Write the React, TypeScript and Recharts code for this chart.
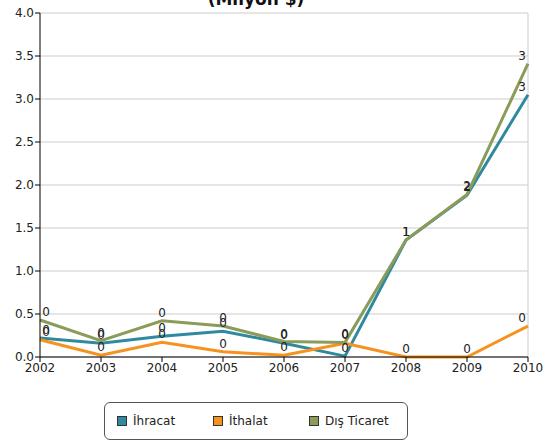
import { LineChart, Line, XAxis, YAxis, CartesianGrid, Legend, LabelList } from 'recharts';

const years = ['2002', '2003', '2004', '2005', '2006', '2007', '2008', '2009', '2010'];
const ihracat = [0.22, 0.16, 0.24, 0.3, 0.16, 0.01, 1.36, 1.88, 3.05];
const ithalat = [0.2, 0.02, 0.17, 0.06, 0.02, 0.16, 0.0, 0.0, 0.36];
const disTicaret = [0.43, 0.19, 0.42, 0.36, 0.18, 0.17, 1.36, 1.89, 3.41];
const yTicks = [0, 0.5, 1, 1.5, 2, 2.5, 3, 3.5, 4];

const series = [
  { key: 'ihracat', name: 'İhracat', color: '#2f8aa0' },
  { key: 'ithalat', name: 'İthalat', color: '#f6921e' },
  { key: 'dis', name: 'Dış Ticaret', color: '#8a9b5a' },
];

const data = years.map((year, i) => ({
  year,
  ihracat: ihracat[i],
  ithalat: ithalat[i],
  dis: disTicaret[i],
}));

const font = 'Tahoma, "DejaVu Sans", sans-serif';

// value labels kept inside the plot, like the original
function PointLabel(props: any) {
  const { x, y, value } = props;
  if (x == null || y == null) return null;
  const cx = Math.min(Math.max(Number(x), 46), 522);
  return (
    <text x={cx} y={Number(y) - 4} textAnchor="middle" fontSize={12} fill="#222" fontFamily={font}>
      {String(Math.round(Number(value)))}
    </text>
  );
}

function LegendBox() {
  return (
    <div
      style={{
        boxSizing: 'border-box',
        width: 304,
        height: 38,
        border: '1px solid #555',
        borderRadius: 6,
        display: 'flex',
        alignItems: 'center',
        paddingLeft: 12,
        fontFamily: font,
        fontSize: 12,
        color: '#222',
      }}
    >
      {series.map((s) => (
        <div key={s.key} style={{ display: 'flex', alignItems: 'center', width: 96 }}>
          <span
            style={{
              display: 'inline-block',
              width: 8,
              height: 8,
              background: s.color,
              border: '1px solid #333',
              marginRight: 6,
            }}
          />
          <span>{s.name}</span>
        </div>
      ))}
    </div>
  );
}

export default function App() {
  return (
    <div style={{ position: 'absolute', left: 0, top: 0, width: 546, height: 441, background: '#fff' }}>
      <LineChart
        width={546}
        height={441}
        data={data}
        margin={{ top: 13, right: 18, bottom: 54, left: 0 }}
        style={{ fontFamily: font }}
      >
        <text x={256} y={5} textAnchor="middle" fontSize={17} fontWeight="bold" fill="#111">
          (Milyon $)
        </text>
        <CartesianGrid
          stroke="#cccccc"
          strokeWidth={1}
          verticalCoordinatesGenerator={({ offset }: any) => [offset.left + offset.width]}
        />
        <XAxis
          dataKey="year"
          height={30}
          tick={{ fill: '#222', fontSize: 12 }}
          tickSize={5}
          tickMargin={1}
          stroke="#000"
          interval={0}
        />
        <YAxis
          width={40}
          domain={[0, 4]}
          ticks={yTicks}
          tickFormatter={(v: number) => v.toFixed(1)}
          tick={{ fill: '#222', fontSize: 12 }}
          tickSize={5}
          tickMargin={1}
          stroke="#000"
          interval={0}
        />
        <Legend
          layout="horizontal"
          verticalAlign="middle"
          align="center"
          content={() => <LegendBox />}
          wrapperStyle={{ left: 104, top: 402, width: 304, height: 38 }}
        />
        {series.map((s) => (
          <Line
            key={s.key}
            type="linear"
            dataKey={s.key}
            name={s.name}
            stroke={s.color}
            strokeWidth={3}
            dot={false}
            activeDot={false}
            isAnimationActive={false}
          >
            <LabelList dataKey={s.key} content={PointLabel} />
          </Line>
        ))}
      </LineChart>
    </div>
  );
}
